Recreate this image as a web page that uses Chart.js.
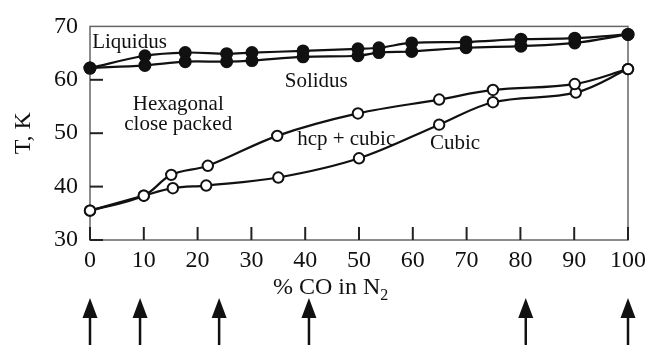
<!DOCTYPE html>
<html>
<head>
<meta charset="utf-8">
<script src="https://cdn.jsdelivr.net/npm/chart.js@4.4.1/dist/chart.umd.min.js"></script>
<style>
  html, body { margin: 0; padding: 0; background: #fff; }
  #wrap { width: 656px; height: 345px; }
</style>
</head>
<body>
<div id="wrap"><canvas id="diagrama"></canvas></div>
<script>
// Diagrama de fases N2-CO: % CO en N2 frente a temperatura (K)
const liquidusX = [0, 10.2, 17.7, 25.4, 30.1, 39.6, 49.8, 53.7, 59.8, 69.9, 80.1, 90.1, 100];
const liquidusT = [62.2, 64.5, 65.1, 64.9, 65.1, 65.4, 65.8, 66.0, 66.9, 67.1, 67.6, 67.8, 68.5];
const solidusX = [0, 10.2, 17.7, 25.4, 30.1, 39.6, 49.8, 53.7, 59.8, 69.9, 80.1, 90.1, 100];
const solidusT = [62.2, 62.7, 63.4, 63.4, 63.6, 64.3, 64.5, 65.1, 65.3, 66.0, 66.3, 66.9, 68.5];
const hcpX = [0, 10, 15.1, 21.9, 34.8, 49.8, 64.9, 74.9, 90.1, 100];
const hcpT = [35.5, 38.3, 42.2, 43.9, 49.5, 53.7, 56.3, 58.1, 59.2, 62.0];
const cubicoX = [0, 10, 15.4, 21.6, 35.0, 50.0, 64.9, 74.9, 90.3, 100];
const cubicoT = [35.5, 38.3, 39.7, 40.2, 41.7, 45.3, 51.6, 55.8, 57.6, 62.0];
const flechasX = [0, 9.3, 24, 40.7, 81, 100];   // composiciones marcadas con flechas
const ticksX = [0, 10, 20, 30, 40, 50, 60, 70, 80, 90, 100];
const ticksY = [30, 40, 50, 60];

// Etiquetas de las regiones: [texto, x, T]
const etiquetas = [
  ['Liquidus', 0.4, 66.0],
  ['Solidus', 36.2, 58.7],
  ['hcp + cubic', 38.5, 47.7],
  ['Cubic', 63.2, 47.0]
];

const fuente = '"Liberation Serif", "DejaVu Serif", serif';

function puntos(xs, ys) {
  return xs.map((x, i) => ({ x: x, y: ys[i] }));
}

function serie(xs, ys, relleno) {
  return {
    data: puntos(xs, ys),
    borderColor: '#111',
    borderWidth: 2.2,
    backgroundColor: relleno ? '#111' : '#fff',
    pointBackgroundColor: relleno ? '#111' : '#fff',
    pointBorderColor: '#111',
    pointBorderWidth: 2,
    pointRadius: relleno ? 5.5 : 5.2,
    tension: 0.35,
    fill: false,
    clip: false
  };
}

// Marco, marcas interiores, textos y flechas
const decoracion = {
  id: 'decoracion',
  beforeDatasetsDraw(chart) {
    const a = chart.chartArea;
    const ctx = chart.ctx;
    const x = chart.scales.x;
    const y = chart.scales.y;
    ctx.save();
    ctx.strokeStyle = '#666';
    ctx.lineWidth = 1.5;
    ctx.strokeRect(a.left, a.top, a.right - a.left, a.bottom - a.top);
    ctx.strokeStyle = '#222';
    ctx.lineWidth = 2;
    for (const v of ticksX) {
      const px = x.getPixelForValue(v);
      ctx.beginPath();
      ctx.moveTo(px, a.bottom);
      ctx.lineTo(px, a.bottom - 13);
      ctx.stroke();
    }
    for (const v of ticksY) {
      const py = y.getPixelForValue(v);
      ctx.beginPath();
      ctx.moveTo(a.left, py);
      ctx.lineTo(a.left + 13, py);
      ctx.stroke();
    }
    ctx.restore();
  },
  afterDraw(chart) {
    const { ctx, chartArea: a, scales: { x, y } } = chart;
    ctx.save();
    ctx.fillStyle = '#111';

    // etiquetas dentro del área
    ctx.font = '21px ' + fuente;
    ctx.textAlign = 'left';
    ctx.textBaseline = 'alphabetic';
    etiquetas.forEach(([t, vx, vy]) => ctx.fillText(t, x.getPixelForValue(vx), y.getPixelForValue(vy)));
    ctx.textAlign = 'center';
    ctx.fillText('Hexagonal', x.getPixelForValue(16.4), y.getPixelForValue(54.3));
    ctx.fillText('close packed', x.getPixelForValue(16.4), y.getPixelForValue(50.6));

    // título del eje x con subíndice
    ctx.font = '24px ' + fuente;
    ctx.textAlign = 'left';
    const tx = x.getPixelForValue(34);
    const ty = a.bottom + 54;
    const base = '% CO in N';
    ctx.fillText(base, tx, ty);
    const w = ctx.measureText(base).width;
    ctx.font = '16px ' + fuente;
    ctx.fillText('2', tx + w, ty + 6);

    // título del eje y
    ctx.font = '24px ' + fuente;
    ctx.translate(24, y.getPixelForValue(50));
    ctx.rotate(-Math.PI / 2);
    ctx.textAlign = 'center';
    ctx.textBaseline = 'middle';
    ctx.fillText('T, K', 0, 0);
    ctx.restore();

    // flechas bajo el eje
    ctx.save();
    ctx.fillStyle = '#111';
    ctx.strokeStyle = '#111';
    ctx.lineWidth = 2.5;
    const alto = chart.height;
    flechasX.forEach(v => {
      const px = x.getPixelForValue(v);
      ctx.beginPath();
      ctx.moveTo(px, alto);
      ctx.lineTo(px, alto - 30);
      ctx.stroke();
      ctx.beginPath();
      ctx.moveTo(px, alto - 47);
      ctx.lineTo(px - 7.5, alto - 27);
      ctx.lineTo(px + 7.5, alto - 27);
      ctx.closePath();
      ctx.fill();
    });
    ctx.restore();
  }
};

new Chart(document.getElementById('diagrama'), {
  type: 'line',
  data: {
    datasets: [
      serie(liquidusX, liquidusT, true),
      serie(solidusX, solidusT, true),
      serie(hcpX, hcpT, false),
      serie(cubicoX, cubicoT, false)
    ]
  },
  options: {
    responsive: true,
    maintainAspectRatio: false,
    animation: false,
    layout: { padding: { top: 21, right: 28, left: 0, bottom: 0 } },
    plugins: { legend: { display: false }, tooltip: { enabled: false } },
    scales: {
      x: {
        type: 'linear',
        min: 0,
        max: 100,
        ticks: { stepSize: 10, color: '#111', font: { family: fuente, size: 24 }, padding: 6, maxRotation: 0 },
        grid: { display: false, drawTicks: false },
        border: { display: false },
        afterFit(scale) { scale.height = 105; }
      },
      y: {
        min: 30,
        max: 70,
        ticks: { stepSize: 10, color: '#111', font: { family: fuente, size: 24 }, padding: 12 },
        grid: { display: false, drawTicks: false },
        border: { display: false },
        afterFit(scale) { scale.width = 90; }
      }
    }
  },
  plugins: [decoracion]
});
</script>
</body>
</html>
